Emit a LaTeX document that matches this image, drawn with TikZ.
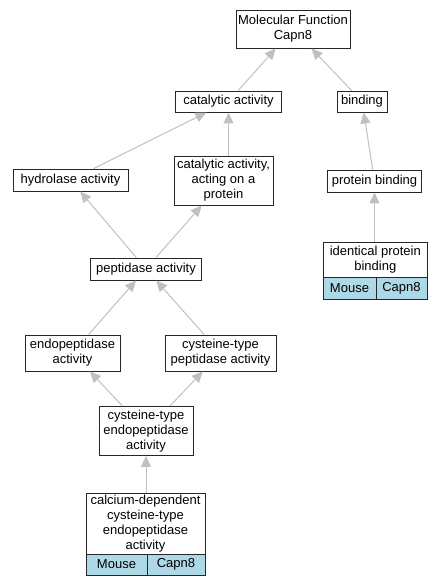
\documentclass[tikz,border=0pt]{standalone}
\usepackage{fontspec}
\setmainfont{Liberation Sans}
\usetikzlibrary{arrows.meta}
\definecolor{edgegray}{RGB}{192,192,192}
\definecolor{speciesblue}{RGB}{173,216,230}
\begin{document}
\begin{tikzpicture}[x=1pt,y=-1pt,
    term/.style={draw=black!85,line width=0.95pt,fill=white,inner sep=0pt,align=center,
        font=\fontsize{13}{15}\selectfont},
    cell/.style={term,fill=speciesblue},
    isa/.style={draw=edgegray,line width=1pt,-{Triangle[length=11pt,width=10pt]}}]
    \useasboundingbox (0,0) rectangle (441,587);
    %termini in alto
    \node[term,minimum width=114pt,minimum height=38pt] (mf) at (293,29) {Molecular Function\\Capn8};
    \node[term,minimum width=106pt,minimum height=21pt] (cat) at (228.5,101.5) {catalytic activity};
    \node[term,minimum width=50pt,minimum height=21pt] (bind) at (362,101.5) {binding};
    \node[term,minimum width=115pt,minimum height=22pt] (hydro) at (70.5,180) {hydrolase activity};
    \node[term,minimum width=99pt,minimum height=49pt] (catprot) at (223.5,180.5) {catalytic activity,\\acting on a\\protein};
    \node[term,minimum width=94pt,minimum height=22pt] (protbind) at (374.5,181) {protein binding};
    %peptidasi
    \node[term,minimum width=111pt,minimum height=22pt] (pept) at (146,269) {peptidase activity};
    \node[term,minimum width=95pt,minimum height=36pt] (endo) at (72.5,353) {endopeptidase\\activity};
    \node[term,minimum width=111pt,minimum height=36pt] (cyspept) at (220.5,353) {cysteine-type\\peptidase activity};
    \node[term,minimum width=94pt,minimum height=49pt] (cysendo) at (146,431) {cysteine-type\\endopeptidase\\activity};
    %termini annotati
    \node[term,minimum width=104pt,minimum height=35pt] (ident) at (375.3,259.5) {identical protein\\binding};
    \node[cell,minimum width=53pt,minimum height=22pt] (identmouse) at (349.5,288) {Mouse};
    \node[cell,minimum width=51pt,minimum height=22pt] (identgene) at (401.5,288) {Capn8};
    \node[term,minimum width=119pt,minimum height=61pt] (calc) at (145.5,523.5) {calcium-dependent\\cysteine-type\\endopeptidase\\activity};
    \node[cell,minimum width=61pt,minimum height=21pt] (calcmouse) at (116.5,564.5) {Mouse};
    \node[cell,minimum width=58pt,minimum height=21pt] (calcgene) at (176,564.5) {Capn8};
    % Frecce is_a
    \draw[isa] (cat) -- (mf);
    \draw[isa] (bind) -- (mf);
    \draw[isa] (hydro) -- (cat);
    \draw[isa] (catprot.north -| cat) -- (cat);
    \draw[isa] (protbind) -- (bind);
    \draw[isa] (ident.north -| protbind) -- (protbind);
    \draw[isa] (pept) -- (hydro);
    \draw[isa] (pept) -- (catprot);
    \draw[isa] (endo) -- (pept);
    \draw[isa] (cyspept) -- (pept);
    \draw[isa] (cysendo) -- (endo);
    \draw[isa] (cysendo) -- (cyspept);
    \draw[isa] (calc.north -| cysendo) -- (cysendo);
\end{tikzpicture}
\end{document}
